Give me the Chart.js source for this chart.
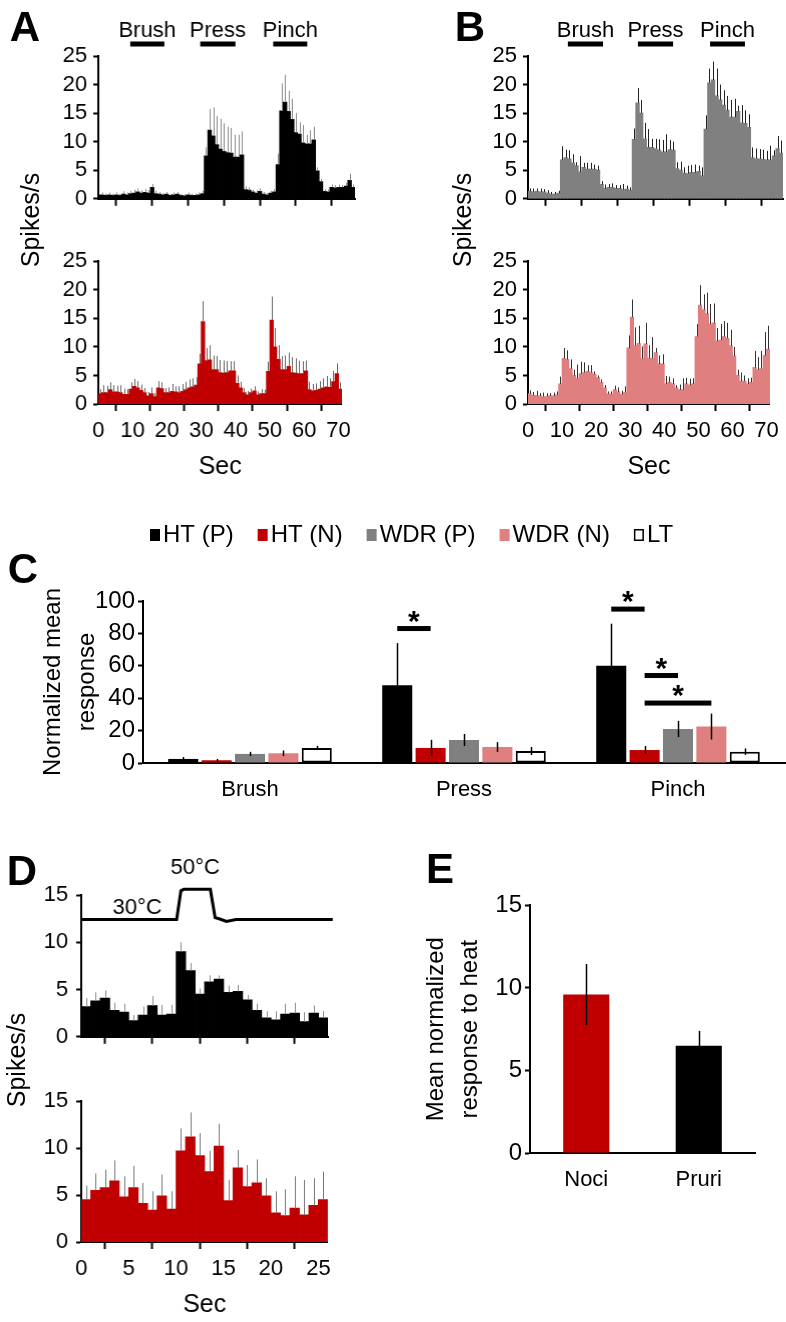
<!DOCTYPE html>
<html>
<head>
<meta charset="utf-8">
<script src="https://cdn.jsdelivr.net/npm/chart.js"></script>
<style>
  body { margin: 0; background: #fff; }
  #fig { position: relative; width: 786px; height: 1322px; overflow: hidden; font-family: 'Liberation Sans', Arial, sans-serif; }
  #fig canvas { position: absolute; }
  .lbl { position: absolute; white-space: nowrap; line-height: 1; color: #000; transform: translate(-50%, -50%); }
</style>
</head>
<body>
<div id="fig"></div>
<script>
// ---------- data ----------
const stimNames = ["Brush", "Press", "Pinch"];
const aStimStart = [8.9, 28.4, 48.7];
const aStimEnd = [18.4, 38.2, 58.2];
const bStimStart = [11.1, 30.6, 50.7];
const bStimEnd = [20.9, 40.4, 60.4];

// A top: HT (P), 1 s bins centred on whole seconds
const aTopMean = [
  0.6, 0.7, 0.6, 0.7, 0.6, 0.7, 0.6, 0.8, 0.7, 0.9,
  1.0, 1.2, 1.0, 1.1, 1.0, 2.0, 0.9, 0.8, 0.7, 0.8,
  0.6, 0.7, 0.8, 0.6, 0.5, 0.7, 0.6, 0.6, 0.7, 0.9,
  7.5, 12.0, 11.0, 9.5, 8.7, 8.3, 8.1, 8.0, 7.3, 7.3,
  7.7, 1.6, 1.5, 1.2, 1.0, 1.3, 0.8, 0.7, 1.0, 1.2,
  6.0, 15.4, 16.9, 15.3, 13.9, 11.6, 11.3, 9.8, 9.6, 9.6,
  10.3, 4.9, 3.0, 1.3, 1.2, 2.0, 1.9, 2.0, 2.0, 2.2,
  3.2, 2.0
];
const aTopErr = [
  0.3, 0.4, 0.3, 0.4, 0.3, 0.4, 0.3, 0.5, 0.4, 0.5,
  0.6, 0.6, 0.5, 0.6, 0.5, 0.6, 0.5, 0.4, 0.3, 0.4,
  0.3, 0.4, 0.4, 0.3, 0.3, 0.4, 0.3, 0.3, 0.4, 0.5,
  1.5, 3.7, 5.0, 5.0, 5.3, 4.9, 4.5, 4.4, 3.9, 3.9,
  4.1, 0.6, 0.5, 0.4, 0.5, 0.5, 0.4, 0.3, 0.4, 0.5,
  1.9, 4.8, 4.8, 3.6, 3.6, 3.4, 2.1, 3.1, 1.6, 2.4,
  2.3, 0.6, 0.5, 0.4, 0.4, 0.5, 0.5, 0.5, 0.4, 0.6,
  1.2, 0.5
];
// A bottom: HT (N)
const aBotMean = [
  1.8, 2.0, 2.0, 2.5, 2.1, 2.1, 2.0, 1.7, 1.7, 2.6,
  3.1, 2.8, 2.4, 2.0, 1.4, 1.8, 1.3, 2.8, 2.7, 2.0,
  2.0, 2.2, 2.1, 2.0, 2.2, 2.5, 2.8, 3.0, 3.3, 7.0,
  14.4, 7.6, 7.7, 6.0, 6.0, 5.5, 5.4, 5.5, 5.8, 5.8,
  3.6, 2.8, 2.0, 1.6, 2.0, 2.3, 1.6, 1.8, 1.8, 5.7,
  14.7, 10.0, 7.8, 6.0, 6.0, 6.6, 5.5, 5.4, 5.3, 5.3,
  5.8, 2.5, 2.3, 2.4, 2.6, 2.8, 3.0, 2.9, 3.9, 5.3,
  2.6
];
const aBotErr = [
  0.8, 1.3, 1.2, 1.3, 1.2, 1.1, 1.3, 1.0, 0.9, 1.2,
  1.3, 1.2, 1.0, 0.8, 0.7, 1.1, 0.6, 1.2, 1.1, 0.8,
  0.9, 1.3, 1.0, 1.1, 1.3, 1.4, 1.5, 1.5, 1.4, 1.8,
  3.6, 2.2, 2.6, 2.5, 2.4, 2.2, 2.2, 2.0, 1.7, 1.7,
  1.4, 1.1, 0.8, 0.7, 0.7, 0.8, 0.6, 0.8, 0.7, 1.7,
  4.1, 3.3, 2.5, 2.4, 2.5, 2.4, 2.7, 2.6, 2.3, 2.2,
  1.8, 1.4, 1.2, 1.2, 1.4, 1.7, 1.9, 1.6, 1.9, 1.8,
  1.2
];
// B top: WDR (P)
const bTopMean = [
  1.3, 1.2, 1.3, 1.2, 1.2, 1.0, 0.8, 0.8, 1.0,
  6.8, 7.2, 7.0, 6.3, 5.8, 4.7, 5.5, 5.2, 5.2, 5.2, 5.0,
  2.5, 1.8, 2.0, 2.0, 1.8, 1.8, 1.6, 1.7, 1.5,
  10.4, 16.8, 15.0, 10.5, 9.0, 9.0, 8.8, 8.5, 8.2, 8.2, 8.6, 8.5,
  5.3, 5.0, 4.5, 4.4, 4.6, 4.6, 4.8, 4.0,
  12.2, 20.3, 20.8, 18.0, 17.3, 16.4, 15.5, 14.3, 14.3, 15.3, 13.3, 13.2, 12.5,
  7.2, 7.0, 7.0, 6.9, 6.8, 6.8, 7.5, 8.8, 8.0
];
const bTopErr = [
  0.5, 0.6, 0.5, 0.6, 0.5, 0.5, 0.4, 0.4, 0.4,
  2.4, 1.4, 1.5, 1.5, 0.6, 2.8, 0.8, 1.1, 1.1, 0.8, 0.8,
  0.6, 0.7, 0.6, 0.7, 0.6, 0.6, 1.0, 0.6, 0.5,
  1.9, 2.6, 2.3, 2.8, 3.2, 1.5, 1.7, 1.9, 2.1, 3.1, 1.7, 1.5,
  1.1, 1.5, 1.0, 1.4, 1.3, 1.4, 1.0, 1.5,
  2.4, 2.5, 3.2, 4.8, 2.7, 2.6, 2.5, 3.0, 3.2, 1.0, 3.1, 2.3, 2.3,
  1.8, 1.8, 1.7, 1.7, 1.6, 2.5, 1.0, 2.2, 2.2
];
// B bottom: WDR (N)
const bBotMean = [
  1.8, 1.5, 1.5, 1.4, 1.3, 1.3, 1.4, 1.4, 1.6,
  3.5,
  8.0, 7.8, 6.2, 5.0, 4.5, 5.3, 5.5, 5.7, 5.5, 5.2, 4.6,
  3.8, 2.8, 1.8, 1.7, 2.5, 2.1, 1.7, 2.0,
  9.8, 15.2, 10.2, 10.6, 8.0, 10.5, 8.0, 8.0, 9.0, 7.0, 7.0,
  3.5, 3.8, 3.5, 2.8, 2.5, 2.5, 3.5, 3.3, 3.5,
  11.8, 17.3, 16.5, 15.8, 14.0, 14.2, 11.0, 11.2, 11.8, 11.5, 10.2, 8.4,
  5.0, 4.0, 4.0, 3.5, 3.8, 6.4, 6.0, 6.2, 8.5, 9.6
];
const bBotErr = [
  0.6, 0.6, 0.8, 0.5, 0.7, 0.6, 0.5, 0.6, 0.6,
  1.3,
  1.8, 1.6, 1.6, 1.0, 2.4, 2.1, 1.8, 1.1, 1.3, 0.5, 0.4,
  0.5, 0.5, 0.4, 0.5, 0.7, 0.8, 0.6, 1.1,
  2.2, 3.1, 3.2, 3.1, 2.1, 3.7, 2.3, 3.7, 0.8, 1.5, 1.7,
  1.4, 1.0, 1.0, 0.5, 0.9, 2.0, 1.1, 1.1, 1.0,
  2.2, 3.5, 2.7, 3.7, 3.5, 3.4, 2.3, 2.8, 2.7, 2.7, 2.8, 1.6,
  1.0, 1.5, 1.0, 1.0, 0.8, 2.9, 2.2, 3.1, 4.1, 4.1
];

// C: normalized mean response
const cCategories = ["Brush", "Press", "Pinch"];
const cSeries = ["HT (P)", "HT (N)", "WDR (P)", "WDR (N)", "LT"];
const cHTP = [2.5, 48, 60];
const cHTPErr = [1.2, 26, 26];
const cHTN = [1.7, 9.3, 8];
const cHTNErr = [0.8, 5, 2.5];
const cWDRP = [5.6, 14.2, 21];
const cWDRPErr = [1.3, 3.7, 5];
const cWDRN = [6, 9.9, 22.5];
const cWDRNErr = [1.7, 3, 8];
const cLT = [9.3, 7.4, 7];
const cLTErr = [1.3, 2.5, 2];
// significance: category index, from series, to series, level
const sigGroup = [1, 2, 2, 2];
const sigFrom = [0, 0, 1, 1];
const sigTo = [1, 1, 2, 3];
const sigLevel = [83, 95, 54, 37];

// D: heat response
const dTopMean = [3.2, 3.8, 4.1, 2.8, 2.6, 1.7, 2.3, 3.3, 2.3, 2.4, 9.0, 7.0, 4.5, 5.8, 6.1, 4.7, 4.8, 3.9, 2.8, 2.0, 1.8, 2.4, 2.5, 1.6, 2.5, 2.0];
const dTopErr = [0.9, 0.9, 0.8, 0.8, 0.9, 0.6, 0.9, 1.0, 1.1, 1.0, 1.0, 0.8, 0.6, 0.7, 0.4, 0.7, 0.7, 0.5, 0.7, 0.7, 0.9, 1.1, 1.1, 1.0, 0.8, 0.7];
const dBotMean = [4.5, 5.5, 5.8, 6.5, 4.8, 5.8, 4.1, 3.4, 4.9, 3.5, 9.7, 11.2, 9.2, 7.5, 10.2, 4.4, 7.9, 5.9, 6.3, 4.9, 3.1, 2.8, 3.6, 2.9, 3.9, 4.5];
const dBotErr = [1.5, 1.8, 1.9, 2.2, 2.2, 2.3, 2.2, 2.0, 2.3, 1.9, 2.4, 2.6, 2.4, 2.2, 2.4, 2.2, 1.9, 2.3, 2.5, 1.9, 2.3, 2.8, 3.4, 3.7, 2.9, 3.0];
const tempTime = [0, 10.05, 10.5, 10.8, 13.6, 14.1, 14.6, 15.3, 16.3, 26.5];
const tempDeg = [30, 30, 49, 50, 50, 31.3, 30.4, 28.8, 30, 30];
const tempLabelText = ["30\u00B0C", "50\u00B0C"];
const tempLabelTime = [5.9, 12.0];
const tempLabelDeg = [30, 50];

// E: mean normalized response to heat
const eCategories = ["Noci", "Pruri"];
const eMean = [9.6, 6.5];
const eErr = [1.85, 0.9];

// ---------- helpers ----------
const FONT = "'Liberation Sans', Arial, sans-serif";
Chart.defaults.font.family = FONT;
Chart.defaults.font.size = 22;
Chart.defaults.color = "#000";
Chart.defaults.animation = false;

const fig = document.getElementById("fig");

function addText(text, x, y, css) {
  const d = document.createElement("div");
  d.className = "lbl";
  d.textContent = text;
  d.style.left = x + "px";
  d.style.top = y + "px";
  Object.assign(d.style, css || {});
  fig.appendChild(d);
}

// canvas placed so the plot area lands on the given box
function frame(b) {
  const c = document.createElement("canvas");
  const w = b.left + b.plotW + b.right;
  const h = b.above + b.plotH + b.below;
  c.width = w; c.height = h;
  c.style.left = (b.axisX - b.left) + "px";
  c.style.top = (b.plotTop - b.above) + "px";
  c.style.width = w + "px"; c.style.height = h + "px";
  fig.appendChild(c);
  return c.getContext("2d");
}
function layoutFor(b) {
  return { autoPadding: false, padding: { top: b.above, right: b.right, left: 0, bottom: 0 } };
}

const errorBars = {
  id: "errorBars",
  afterDatasetsDraw(chart) {
    const ctx = chart.ctx;
    const ys = chart.scales.y;
    const area = chart.chartArea;
    chart.data.datasets.forEach((ds, di) => {
      if (!ds.errors) return;
      const meta = chart.getDatasetMeta(di);
      meta.data.forEach((bar, i) => {
        const raw = ds.data[i];
        const v = typeof raw === "object" ? raw.y : raw;
        const e = ds.errors[i];
        if (bar.x < area.left + 1 || bar.x > area.right) return;
        const x = Math.round(bar.x) + 0.5;
        ctx.save();
        ctx.strokeStyle = ds.errColor;
        ctx.lineWidth = ds.errWidth || 1;
        ctx.beginPath();
        ctx.moveTo(x, ys.getPixelForValue(ds.errBoth ? v - e : v));
        ctx.lineTo(x, ys.getPixelForValue(v + e));
        ctx.stroke();
        ctx.restore();
      });
    });
  }
};

function stimulusPlugin(starts, ends) {
  return {
    id: "stimulus",
    afterDraw(chart) {
      const { ctx, chartArea, scales: { x } } = chart;
      ctx.save();
      ctx.fillStyle = "#000";
      ctx.font = "22px " + FONT;
      ctx.textAlign = "center";
      ctx.textBaseline = "middle";
      stimNames.forEach((name, i) => {
        const x1 = x.getPixelForValue(starts[i]);
        const x2 = x.getPixelForValue(ends[i]);
        ctx.fillRect(x1, chartArea.top - 14.5, x2 - x1, 5);
        ctx.fillText(name, (x1 + x2) / 2, chartArea.top - 25);
      });
      ctx.restore();
    }
  };
}

function axisStyle() {
  return { display: true, color: "#000", width: 2 };
}

function histogram(b, mean, err, o) {
  const ctx = frame(b);
  const datasets = [{
    type: "bar",
    data: mean.map((v, i) => ({ x: i + o.shift, y: v })),
    backgroundColor: o.color,
    borderWidth: 0,
    inflateAmount: 0.4,
    barPercentage: 1,
    categoryPercentage: 1,
    errors: err,
    errColor: o.errColor,
    order: 1
  }].concat(o.extra || []);
  const scales = {
    x: {
      type: "linear", min: 0, max: o.xMax, offset: false,
      border: axisStyle(),
      grid: { drawOnChartArea: false, tickLength: 7, tickWidth: 2, tickColor: "#000" },
      ticks: { display: o.labels, stepSize: o.xStep, includeBounds: false, maxRotation: 0, autoSkip: false, padding: 7, font: { size: 22 } },
      title: { display: o.labels, text: "Sec", font: { size: 25 }, padding: { top: 0, bottom: o.titlePad || 0 } },
      afterFit: (s) => { s.height = b.below; }
    },
    y: {
      min: 0, max: o.yMax,
      border: axisStyle(),
      grid: { drawOnChartArea: false, tickLength: 5, tickWidth: 2, tickColor: "#000" },
      ticks: { stepSize: 5, autoSkip: false, padding: o.yPad, font: { size: 22 } },
      afterFit: (s) => { s.width = b.left; }
    }
  };
  if (o.extraScales) Object.assign(scales, o.extraScales);
  return new Chart(ctx, {
    type: "bar",
    data: { datasets },
    options: {
      responsive: false, animation: false, events: [],
      layout: layoutFor(b),
      plugins: { legend: { display: false }, tooltip: { enabled: false } },
      scales
    },
    plugins: [errorBars].concat(o.plugins || [])
  });
}

// ---------- panel A ----------
histogram({ axisX: 98, plotTop: 56, plotW: 256.7, plotH: 152, left: 98, above: 56, below: 10, right: 4 },
  aTopMean, aTopErr,
  { shift: 0, xMax: 71.5, xStep: 10, yMax: 25, yPad: 6, labels: false, color: "#000", errColor: "#8a8a8a",
    plugins: [stimulusPlugin(aStimStart, aStimEnd)] });
histogram({ axisX: 98, plotTop: 252, plotW: 243.5, plotH: 152, left: 98, above: 10, below: 82, right: 16 },
  aBotMean, aBotErr,
  { shift: 0.5, xMax: 71, xStep: 10, yMax: 25, yPad: 6, labels: true, titlePad: 4, color: "#c00000", errColor: "#666" });

// ---------- panel B ----------
histogram({ axisX: 528, plotTop: 56, plotW: 255, plotH: 152, left: 70, above: 56, below: 10, right: 3 },
  bTopMean, bTopErr,
  { shift: 0.5, xMax: 71, xStep: 10, yMax: 25, yPad: 6, labels: false, color: "#808080", errColor: "#222",
    plugins: [stimulusPlugin(bStimStart, bStimEnd)] });
histogram({ axisX: 528, plotTop: 252, plotW: 243, plotH: 152, left: 70, above: 10, below: 82, right: 15 },
  bBotMean, bBotErr,
  { shift: 0.5, xMax: 71, xStep: 10, yMax: 25, yPad: 6, labels: true, titlePad: 4, color: "#df7f7f", errColor: "#333" });

// ---------- panel C ----------
(function () {
  const b = { axisX: 143, plotTop: 601, plotW: 642, plotH: 162, left: 143, above: 95, below: 50, right: 1 };
  const ctx = frame(b);
  const colors = ["#000000", "#c00000", "#808080", "#df7f7f", "#ffffff"];
  const values = [cHTP, cHTN, cWDRP, cWDRN, cLT];
  const errors = [cHTPErr, cHTNErr, cWDRPErr, cWDRNErr, cLTErr];
  const datasets = cSeries.map((name, k) => ({
    label: name,
    data: values[k],
    backgroundColor: colors[k],
    borderColor: "#000",
    borderWidth: k === 4 ? 2 : 0,
    borderSkipped: false,
    errors: errors[k],
    errBoth: true,
    errColor: "#000",
    errWidth: 1.5,
    barPercentage: 0.9,
    categoryPercentage: 0.78
  }));

  const legendPlugin = {
    id: "cLegend",
    afterDraw(chart) {
      const { ctx, chartArea } = chart;
      ctx.save();
      ctx.font = "24px " + FONT;
      ctx.textBaseline = "middle";
      let x = chartArea.left + 7;
      const y = chartArea.top - 66;
      chart.data.datasets.forEach((ds) => {
        ctx.fillStyle = ds.backgroundColor;
        ctx.fillRect(x, y - 6, 10, 12);
        if (ds.borderWidth) {
          ctx.strokeStyle = "#000";
          ctx.lineWidth = 1.5;
          ctx.strokeRect(x + 0.75, y - 5.25, 8.5, 10.5);
        }
        ctx.fillStyle = "#000";
        ctx.fillText(ds.label, x + 13, y);
        x += 13 + ctx.measureText(ds.label).width + 24;
      });
      ctx.restore();
    }
  };

  const sigPlugin = {
    id: "sigMarks",
    afterDatasetsDraw(chart) {
      const { ctx, scales: { y } } = chart;
      ctx.save();
      ctx.fillStyle = "#000";
      ctx.font = "bold 30px " + FONT;
      ctx.textAlign = "center";
      ctx.textBaseline = "alphabetic";
      sigGroup.forEach((g, i) => {
        const a = chart.getDatasetMeta(sigFrom[i]).data[g].x;
        const c = chart.getDatasetMeta(sigTo[i]).data[g].x;
        const py = y.getPixelForValue(sigLevel[i]);
        ctx.fillRect(a, py - 2.5, c - a, 5);
        ctx.fillText("*", (a + c) / 2, py + 2);
      });
      ctx.restore();
    }
  };

  new Chart(ctx, {
    type: "bar",
    data: { labels: cCategories, datasets },
    options: {
      responsive: false, animation: false, events: [],
      layout: layoutFor(b),
      plugins: { legend: { display: false }, tooltip: { enabled: false } },
      scales: {
        x: {
          border: axisStyle(),
          grid: { display: false, drawTicks: false },
          ticks: { padding: 14, font: { size: 22 } },
          afterFit: (s) => { s.height = b.below; }
        },
        y: {
          min: 0, max: 100,
          border: axisStyle(),
          grid: { drawOnChartArea: false, tickLength: 5, tickWidth: 2, tickColor: "#000" },
          ticks: { stepSize: 20, autoSkip: false, padding: 3, font: { size: 24 } },
          title: { display: true, text: ["Normalized mean", "response"], font: { size: 24, lineHeight: 1.42 }, padding: { top: 36, bottom: 0 } },
          afterFit: (s) => { s.width = b.left; }
        }
      }
    },
    plugins: [errorBars, sigPlugin, legendPlugin]
  });
})();

// ---------- panel D ----------
const tempLabels = {
  id: "tempLabels",
  afterDraw(chart) {
    const { ctx, scales: { x, yT } } = chart;
    const lift = [12, 21];
    ctx.save();
    ctx.fillStyle = "#000";
    ctx.font = "22px " + FONT;
    ctx.textAlign = "center";
    ctx.textBaseline = "middle";
    tempLabelText.forEach((t, i) => {
      ctx.fillText(t, x.getPixelForValue(tempLabelTime[i]), yT.getPixelForValue(tempLabelDeg[i]) - lift[i]);
    });
    ctx.restore();
  }
};
histogram({ axisX: 81, plotTop: 895, plotW: 246.5, plotH: 153, left: 81, above: 45, below: 10, right: 10 },
  dTopMean, dTopErr,
  { shift: 0.5, xMax: 26, xStep: 5, yMax: 15, yPad: 8, labels: false, color: "#000", errColor: "#8a8a8a",
    extra: [{
      type: "line",
      data: tempTime.map((t, i) => ({ x: t, y: tempDeg[i] })),
      yAxisID: "yT",
      borderColor: "#000",
      borderWidth: 3,
      pointRadius: 0,
      tension: 0,
      clip: false,
      order: 0
    }],
    extraScales: { yT: { display: false, min: -47.5, max: 46.25 } },
    plugins: [tempLabels] });
histogram({ axisX: 81, plotTop: 1090, plotW: 246.5, plotH: 152, left: 81, above: 10, below: 80, right: 10 },
  dBotMean, dBotErr,
  { shift: 0.5, xMax: 26, xStep: 5, yMax: 15, yPad: 8, labels: true, titlePad: 2, color: "#c00000", errColor: "#777" });

// ---------- panel E ----------
(function () {
  const b = { axisX: 530, plotTop: 898, plotW: 225, plotH: 255, left: 130, above: 10, below: 45, right: 10 };
  const ctx = frame(b);
  new Chart(ctx, {
    type: "bar",
    data: {
      labels: eCategories,
      datasets: [{
        data: eMean,
        backgroundColor: ["#c00000", "#000000"],
        borderWidth: 0,
        errors: eErr,
        errBoth: true,
        errColor: "#000",
        errWidth: 1.5,
        barPercentage: 0.41,
        categoryPercentage: 1
      }]
    },
    options: {
      responsive: false, animation: false, events: [],
      layout: layoutFor(b),
      plugins: { legend: { display: false }, tooltip: { enabled: false } },
      scales: {
        x: {
          border: axisStyle(),
          grid: { display: false, drawTicks: false },
          ticks: { padding: 14, font: { size: 22 } },
          afterFit: (s) => { s.height = b.below; }
        },
        y: {
          min: 0, max: 15,
          border: axisStyle(),
          grid: { drawOnChartArea: false, tickLength: 5, tickWidth: 2, tickColor: "#000" },
          ticks: { stepSize: 5, autoSkip: false, padding: 3, font: { size: 24 } },
          title: { display: true, text: ["Mean normalized", "response to heat"], font: { size: 24, lineHeight: 1.42 }, padding: { top: 19, bottom: 0 } },
          afterFit: (s) => { s.width = b.left; }
        }
      }
    },
    plugins: [errorBars]
  });
})();

// ---------- panel letters and shared titles ----------
const letterCss = { fontWeight: "bold", fontSize: "42px" };
addText("A", 25, 27, letterCss);
addText("B", 470, 27, letterCss);
addText("C", 23, 569, letterCss);
addText("D", 22, 871, letterCss);
addText("E", 440, 869, letterCss);
const spikeCss = { fontSize: "25px", transform: "translate(-50%, -50%) rotate(-90deg)" };
addText("Spikes/s", 30, 220, spikeCss);
addText("Spikes/s", 462, 220, spikeCss);
addText("Spikes/s", 16, 1060, spikeCss);
</script>
</body>
</html>
